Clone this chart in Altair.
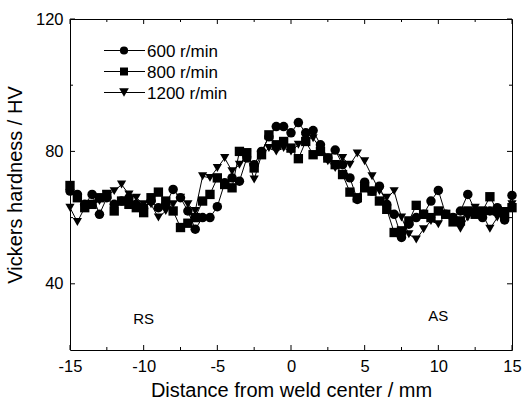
import altair as alt
import pandas as pd

# ---------------- data ----------------
x_mm = [i * 0.5 - 15 for i in range(61)]

hv_600 = [68, 67, 64, 67, 61, 66, 64, 65, 66, 64, 63, 65, 63, 64, 68.5, 66, 62, 56.5, 60, 60,
          63.3, 70.5, 72, 71, 78, 76, 80, 84.4, 87.5, 87.5, 85.6, 88.7, 85.6, 86.3, 82, 78,
          80.4, 76, 72, 65.5, 70.7, 68, 69.5, 64, 61, 54, 58, 60, 61, 65, 68.2, 61, 60, 62,
          67, 62, 60, 62, 63, 59.3, 66.7]
hv_800 = [69.7, 66, 63, 64, 66, 67, 62, 65, 64, 63, 61.5, 66, 67.7, 65, 62, 57, 58.3, 60, 65,
          67, 72, 70, 69, 80, 79.6, 75, 79, 85, 82, 83, 81, 77.8, 83, 79, 80, 78, 76, 73,
          67.7, 66, 69, 68, 65, 62.5, 55.5, 56, 59, 63.7, 61, 60, 62, 61, 58.7, 59, 62, 61,
          62, 66.3, 62, 61, 63]
hv_1200 = [63, 58.7, 63, 64, 65, 67, 68, 70, 67, 66, 64, 64, 60, 62, 64, 66, 64, 62, 72.5,
           72, 75, 78, 74, 76, 79, 71.5, 79, 81, 80, 81, 80, 82, 84, 84, 81, 77, 75, 78, 76,
           79.4, 77, 72.5, 68, 66, 68, 60, 55, 53.4, 56.5, 59, 58, 61, 60, 56.6, 60, 63, 61,
           56.6, 60, 62, 64]

series_names = ["600 r/min", "800 r/min", "1200 r/min"]
series_shapes = ["circle", "square", "triangle-down"]
series_sizes = [90, 85, 125]

x_major = [-15, -10, -5, 0, 5, 10, 15]
x_minor = [-12.5, -7.5, -2.5, 2.5, 7.5, 12.5]
y_major = [40, 80, 120]
y_minor = [60, 100]

side_labels = ["RS", "AS"]
side_x = [-10, 10]
side_y = [29.3, 30.3]

# ---------------- tables ----------------
rows = []
for name, vals in zip(series_names, [hv_600, hv_800, hv_1200]):
    for xv, yv in zip(x_mm, vals):
        rows.append({"x": xv, "hv": yv, "series": name})
df = pd.DataFrame(rows)

W, H = 442, 331
FONT = "Liberation Sans"

xs = alt.Scale(domain=[-15, 15], nice=False, zero=False)
ys = alt.Scale(domain=[20, 120], nice=False, zero=False)
shape_scale = alt.Scale(domain=series_names, range=series_shapes)
size_scale = alt.Scale(domain=series_names, range=series_sizes)

x_enc = alt.X("x:Q", scale=xs,
              axis=alt.Axis(values=x_major, title="Distance from weld center / mm",
                            labelExpr="'' + datum.value",
                            grid=False, ticks=False, domain=False, labelFontSize=16.5,
                            labelPadding=8, titleFontSize=20, titlePadding=6,
                            titleFontWeight="normal", labelColor="black",
                            titleColor="black", labelFlush=False))
y_enc = alt.Y("hv:Q", scale=ys,
              axis=alt.Axis(values=y_major, title="Vickers hardness / HV",
                            labelExpr="'' + datum.value",
                            grid=False, ticks=False, domain=False, labelFontSize=16.5,
                            labelPadding=7, titleFontSize=20, titlePadding=10,
                            titleFontWeight="normal", labelColor="black",
                            titleColor="black", labelFlush=False))

base = alt.Chart(df)
lines = base.mark_line(color="black", strokeWidth=1).encode(
    x=x_enc, y=y_enc, detail="series:N", order="x:Q")
points = base.mark_point(filled=True, color="black", opacity=1).encode(
    x=alt.X("x:Q", scale=xs), y=alt.Y("hv:Q", scale=ys),
    shape=alt.Shape("series:N", scale=shape_scale, legend=None),
    size=alt.Size("series:N", scale=size_scale, legend=None))

# inward ticks
xmaj = pd.DataFrame({"v": x_major})
xmin = pd.DataFrame({"v": x_minor})
ymaj = pd.DataFrame({"v": y_major})
ymin = pd.DataFrame({"v": y_minor})

tick_layers = []
for d, ln in [(xmaj, 5), (xmin, 3)]:
    tick_layers.append(alt.Chart(d).mark_rule(color="black", strokeWidth=1).encode(
        x=alt.X("v:Q", scale=xs), y=alt.value(H), y2=alt.value(H - ln)))
    tick_layers.append(alt.Chart(d).mark_rule(color="black", strokeWidth=1).encode(
        x=alt.X("v:Q", scale=xs), y=alt.value(0), y2=alt.value(ln)))
for d, ln in [(ymaj, 5), (ymin, 3)]:
    tick_layers.append(alt.Chart(d).mark_rule(color="black", strokeWidth=1).encode(
        y=alt.Y("v:Q", scale=ys), x=alt.value(0), x2=alt.value(ln)))
    tick_layers.append(alt.Chart(d).mark_rule(color="black", strokeWidth=1).encode(
        y=alt.Y("v:Q", scale=ys), x=alt.value(W), x2=alt.value(W - ln)))

# side labels
sides = pd.DataFrame({"t": side_labels, "x": side_x, "y": side_y})
side_text = alt.Chart(sides).mark_text(font=FONT, fontSize=15, color="black").encode(
    x=alt.X("x:Q", scale=xs), y=alt.Y("y:Q", scale=ys), text="t:N")

# manual legend
leg_y = [31.5, 52.5, 73.5]
legend_layers = []
for name, shp, sz, ly in zip(series_names, series_shapes, series_sizes, leg_y):
    ld = pd.DataFrame({"series": [name]})
    legend_layers.append(alt.Chart(ld).mark_rule(color="black", strokeWidth=1).encode(
        x=alt.value(34), x2=alt.value(75), y=alt.value(ly)))
    legend_layers.append(alt.Chart(ld).mark_point(filled=True, color="black", opacity=1,
                                                  size=sz * 0.75, shape=shp).encode(
        x=alt.value(54), y=alt.value(ly)))
    legend_layers.append(alt.Chart(ld).mark_text(font=FONT, fontSize=17, color="black",
                                                 align="left", baseline="middle").encode(
        x=alt.value(77), y=alt.value(ly + 1), text="series:N"))

chart = alt.layer(lines, points, side_text, *tick_layers, *legend_layers).properties(
    width=W, height=H,
    autosize=alt.AutoSizeParams(type="none"),
    padding={"left": 70, "top": 19, "right": 14, "bottom": 51},
    background="white",
).configure_view(stroke="black", strokeWidth=1).configure_axis(
    labelFont=FONT, titleFont=FONT)

chart.save("out.html", embed_options={"renderer": "svg", "actions": False})
